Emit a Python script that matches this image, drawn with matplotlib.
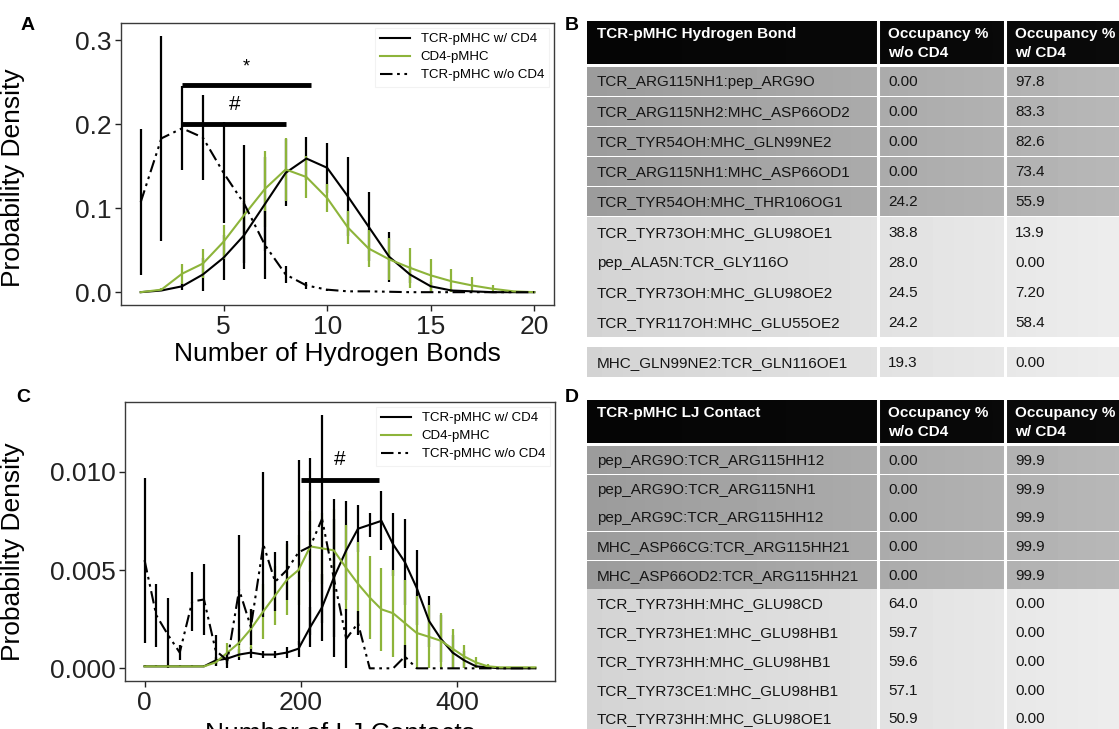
import matplotlib
matplotlib.use('Agg')
import matplotlib.pyplot as plt
from matplotlib.ticker import FormatStrFormatter
import numpy as np

plt.rcParams['font.family'] = ['Liberation Sans', 'DejaVu Sans']

# ---------------- data: panel A (hydrogen bonds) ----------------
hb_x = [1, 2, 3, 4, 5, 6, 7, 8, 9, 10, 11, 12, 13, 14, 15, 16, 17, 18, 19, 20]
hb_w_cd4 = [0.000, 0.002, 0.007, 0.021, 0.041, 0.068, 0.105, 0.142, 0.159, 0.148,
            0.114, 0.078, 0.042, 0.021, 0.007, 0.002, 0.001, 0.000, 0.000, 0.000]
hb_w_cd4_err = [0.000, 0.001, 0.004, 0.020, 0.027, 0.040, 0.056, 0.040, 0.026, 0.030,
                0.047, 0.041, 0.030, 0.010, 0.005, 0.002, 0.001, 0.000, 0.000, 0.000]
hb_cd4_pmhc = [0.000, 0.003, 0.022, 0.034, 0.060, 0.092, 0.123, 0.146, 0.137, 0.112,
               0.077, 0.052, 0.039, 0.029, 0.020, 0.013, 0.008, 0.004, 0.001, 0.000]
hb_cd4_pmhc_err = [0.000, 0.002, 0.012, 0.017, 0.020, 0.030, 0.045, 0.037, 0.025, 0.017,
                   0.020, 0.022, 0.025, 0.024, 0.020, 0.014, 0.010, 0.004, 0.001, 0.000]
hb_wo_cd4 = [0.107, 0.183, 0.195, 0.184, 0.142, 0.105, 0.056, 0.021, 0.008, 0.003,
             0.001, 0.001, 0.0005, 0.000, 0.000, 0.000, 0.000, 0.000, 0.000, 0.000]
hb_wo_cd4_err = [0.087, 0.122, 0.050, 0.050, 0.060, 0.070, 0.040, 0.010, 0.004, 0.001,
                 0.000, 0.000, 0.000, 0.000, 0.000, 0.000, 0.000, 0.000, 0.000, 0.000]

# ---------------- data: panel C (LJ contacts) ----------------
lj_x = [0, 15, 30, 45, 61, 76, 91, 106, 121, 136, 152, 167, 182, 197, 212, 227, 242,
        258, 273, 288, 303, 318, 333, 348, 364, 379, 394, 409, 424, 439, 455, 470, 485, 500]
lj_w_cd4 = [0.0001, 0.0001, 0.0001, 0.0001, 0.0001, 0.0001, 0.0004, 0.0005, 0.0007, 0.0008,
            0.0007, 0.0007, 0.0008, 0.0010, 0.0021, 0.0031, 0.0046, 0.0060, 0.0071, 0.0073,
            0.0075, 0.0063, 0.0054, 0.0041, 0.0024, 0.0015, 0.0008, 0.0004, 0.0001, 0.00005,
            0.0, 0.0, 0.0, 0.0]
lj_w_cd4_err = [0.00005, 0.00005, 0.00005, 0.00005, 0.00005, 0.00005, 0.0002, 0.0003, 0.0003, 0.0003,
                0.0002, 0.0002, 0.0003, 0.0004, 0.0010, 0.0017, 0.0030, 0.0025, 0.0012, 0.0006,
                0.0015, 0.0016, 0.0022, 0.0019, 0.0013, 0.0012, 0.0009, 0.0005, 0.0002, 0.0001,
                0.0, 0.0, 0.0, 0.0]
lj_cd4_pmhc = [0.0001, 0.0001, 0.0001, 0.0001, 0.0001, 0.0001, 0.0003, 0.0008, 0.0013, 0.0020,
               0.0029, 0.0037, 0.0045, 0.0050, 0.0062, 0.0061, 0.0060, 0.0051, 0.0043, 0.0036,
               0.0030, 0.0028, 0.0023, 0.0018, 0.0016, 0.0014, 0.0010, 0.0006, 0.0003, 0.0001,
               0.00005, 0.00005, 0.00005, 0.00005]
lj_cd4_pmhc_err = [0.0, 0.0, 0.0, 0.0, 0.0, 0.0, 0.0002, 0.0005, 0.0007, 0.0010,
                   0.0014, 0.0015, 0.0018, 0.0018, 0.0018, 0.0018, 0.0021, 0.0022, 0.0021, 0.0021,
                   0.0021, 0.0022, 0.0022, 0.0019, 0.0016, 0.0014, 0.0010, 0.0006, 0.0003, 0.0001,
                   0.0, 0.0, 0.0, 0.0]
lj_wo_cd4 = [0.0055, 0.0027, 0.0017, 0.0008, 0.0034, 0.0035, 0.0009, 0.0004, 0.0040, 0.0021,
             0.0063, 0.0044, 0.0050, 0.0059, 0.0062, 0.0076, 0.0046, 0.0015, 0.0023, 0.0,
             0.0, 0.0, 0.0006, 0.0, 0.0, 0.0, 0.0, 0.0, 0.0, 0.0,
             0.0, 0.0, 0.0, 0.0]
lj_wo_cd4_err = [0.0042, 0.0016, 0.0019, 0.0004, 0.0015, 0.0018, 0.0008, 0.0004, 0.0028, 0.0009,
                 0.0037, 0.0015, 0.0015, 0.0047, 0.0045, 0.0053, 0.0040, 0.0015, 0.0006, 0.0,
                 0.0, 0.0, 0.0006, 0.0, 0.0, 0.0, 0.0, 0.0, 0.0, 0.0,
                 0.0, 0.0, 0.0, 0.0]

series_labels = ['TCR-pMHC w/ CD4', 'CD4-pMHC', 'TCR-pMHC w/o CD4']

# ---------------- data: tables ----------------
hb_header = ['TCR-pMHC Hydrogen Bond', 'Occupancy %\nw/o CD4', 'Occupancy %\nw/ CD4']
hb_names = ['TCR_ARG115NH1:pep_ARG9O', 'TCR_ARG115NH2:MHC_ASP66OD2', 'TCR_TYR54OH:MHC_GLN99NE2',
            'TCR_ARG115NH1:MHC_ASP66OD1', 'TCR_TYR54OH:MHC_THR106OG1', 'TCR_TYR73OH:MHC_GLU98OE1',
            'pep_ALA5N:TCR_GLY116O', 'TCR_TYR73OH:MHC_GLU98OE2', 'TCR_TYR117OH:MHC_GLU55OE2',
            'MHC_GLN99NE2:TCR_GLN116OE1']
hb_occ_wo = ['0.00', '0.00', '0.00', '0.00', '24.2', '38.8', '28.0', '24.5', '24.2', '19.3']
hb_occ_w = ['97.8', '83.3', '82.6', '73.4', '55.9', '13.9', '0.00', '7.20', '58.4', '0.00']

lj_header = ['TCR-pMHC LJ Contact', 'Occupancy %\nw/o CD4', 'Occupancy %\nw/ CD4']
lj_names = ['pep_ARG9O:TCR_ARG115HH12', 'pep_ARG9O:TCR_ARG115NH1', 'pep_ARG9C:TCR_ARG115HH12',
            'MHC_ASP66CG:TCR_ARG115HH21', 'MHC_ASP66OD2:TCR_ARG115HH21', 'TCR_TYR73HH:MHC_GLU98CD',
            'TCR_TYR73HE1:MHC_GLU98HB1', 'TCR_TYR73HH:MHC_GLU98HB1', 'TCR_TYR73CE1:MHC_GLU98HB1',
            'TCR_TYR73HH:MHC_GLU98OE1']
lj_occ_wo = ['0.00', '0.00', '0.00', '0.00', '0.00', '64.0', '59.7', '59.6', '57.1', '50.9']
lj_occ_w = ['99.9', '99.9', '99.9', '99.9', '99.9', '0.00', '0.00', '0.00', '0.00', '0.00']

# ---------------- figure ----------------
W, H = 1119, 729
fig = plt.figure(figsize=(W / 100, H / 100), dpi=100)
fig.patch.set_facecolor('white')


def px_axes(l, t, r, b, **kw):
    return fig.add_axes([l / W, 1 - b / H, (r - l) / W, (b - t) / H], **kw)


GREEN = '#8db43a'
DASHDOTDOT = (0, (6, 2.2, 1.3, 2.2, 1.3, 2.2))


def draw_panel(ax, x, yw, ew, yg, eg, yo, eo):
    x = np.asarray(x)
    series = [(yw, ew, 'black', '-'), (yg, eg, GREEN, '-'), (yo, eo, 'black', DASHDOTDOT)]
    for (y, e, c, ls), lab in zip(series, series_labels):
        ax.plot(x, y, color=c, lw=1.5, linestyle=ls, label=lab, zorder=3)
    for (y, e, c, ls) in series:
        y = np.asarray(y)
        e = np.asarray(e)
        lo = np.minimum(e, y)
        ax.errorbar(x, y, yerr=[lo, e], fmt='none', ecolor=c, elinewidth=1.6, capsize=0, zorder=2)
    for s in ax.spines.values():
        s.set_color('#3a3a3a')
        s.set_linewidth(1.0)
    ax.tick_params(direction='out', length=4, width=1, labelsize=19, pad=3, colors='#222222')
    leg = ax.legend(loc='upper right', fontsize=9.5, frameon=True, fancybox=False,
                    edgecolor='#efefef', handlelength=2.3, labelspacing=0.45,
                    borderaxespad=0.35, handletextpad=0.8)
    leg.get_frame().set_linewidth(0.8)
    ax.set_ylabel('Probability Density', fontsize=19)


axA = px_axes(121, 23, 554, 305)
draw_panel(axA, hb_x, hb_w_cd4, hb_w_cd4_err, hb_cd4_pmhc, hb_cd4_pmhc_err, hb_wo_cd4, hb_wo_cd4_err)
axA.set_xticks([5, 10, 15, 20])
axA.set_yticks([0.0, 0.1, 0.2, 0.3])
axA.yaxis.set_major_formatter(FormatStrFormatter('%.1f'))
axA.set_xlabel('Number of Hydrogen Bonds', fontsize=19, labelpad=2)
axA.yaxis.set_label_coords(-0.222, 0.45)
axA.plot([3, 9.2], [0.247, 0.247], color='black', lw=3.5, solid_capstyle='butt', zorder=4)
axA.plot([3, 8], [0.200, 0.200], color='black', lw=3.5, solid_capstyle='butt', zorder=4)
axA.text(6.1, 0.268, '*', fontsize=13, ha='center', va='center')
axA.text(5.55, 0.223, '#', fontsize=15, ha='center', va='center')

axC = px_axes(125, 402, 555, 681)
draw_panel(axC, lj_x, lj_w_cd4, lj_w_cd4_err, lj_cd4_pmhc, lj_cd4_pmhc_err, lj_wo_cd4, lj_wo_cd4_err)
axC.set_xticks([0, 200, 400])
axC.set_yticks([0.0, 0.005, 0.010])
axC.yaxis.set_major_formatter(FormatStrFormatter('%.3f'))
axC.set_xlabel('Number of LJ Contacts', fontsize=19, labelpad=5)
axC.yaxis.set_label_coords(-0.233, 0.465)
axC.plot([200, 300], [0.0096, 0.0096], color='black', lw=3.5, solid_capstyle='butt', zorder=4)
axC.text(250, 0.0106, '#', fontsize=15, ha='center', va='center')

# ---------------- overlay for tables and panel letters ----------------
ov = fig.add_axes([0, 0, 1, 1], zorder=5)
ov.patch.set_alpha(0)
ov.axis('off')


def grad_rect(x0, x1, y0, y1, c0, c1):
    g = np.linspace(c0, c1, 64)[None, :]
    ov.imshow(g, cmap='gray', vmin=0, vmax=1, extent=[x0, x1, y1, y0], aspect='auto',
              interpolation='bilinear', zorder=1)


def draw_table(header, names, occ_wo, occ_w, head_top, head_bot, row_top, pitch, gap_after=None, gap=0):
    x0, c2, c3, x1 = 587, 878, 1005, 1125
    grad_rect(x0, x1, head_top, head_bot, 0.02, 0.04)
    tops = []
    t = row_top
    for i in range(len(names)):
        tops.append(t)
        t += pitch
        if gap_after is not None and i == gap_after:
            t += gap
    for i, tp in enumerate(tops):
        if i < 5:
            grad_rect(x0, x1, tp, tp + pitch - 1.5, 0.61, 0.72)
        else:
            grad_rect(x0, x1, tp, tp + pitch - 0.6, 0.83, 0.93)
    for xc in (c2, c3):
        ov.plot([xc, xc], [head_top, tops[-1] + pitch], color='white', lw=2.2, zorder=3)
    hy1 = head_top + 0.30 * (head_bot - head_top)
    hy2 = head_top + 0.74 * (head_bot - head_top)
    ov.text(x0 + 10, hy1, header[0], color='white', fontsize=11, fontweight='bold', va='center', zorder=4)
    for xc, txt in ((c2, header[1]), (c3, header[2])):
        l1, l2 = txt.split('\n')
        ov.text(xc + 10, hy1, l1, color='white', fontsize=11, fontweight='bold', va='center', zorder=4)
        ov.text(xc + 10, hy2, l2, color='white', fontsize=11, fontweight='bold', va='center', zorder=4)
    for i, tp in enumerate(tops):
        yc = tp + pitch / 2
        ov.text(x0 + 10, yc, names[i], fontsize=11, color='#151515', va='center', zorder=4)
        ov.text(c2 + 10, yc, occ_wo[i], fontsize=11, color='#151515', va='center', zorder=4)
        ov.text(c3 + 10, yc, occ_w[i], fontsize=11, color='#151515', va='center', zorder=4)


draw_table(hb_header, hb_names, hb_occ_wo, hb_occ_w, 21, 64, 67, 30.1, gap_after=8, gap=10)
draw_table(lj_header, lj_names, lj_occ_wo, lj_occ_w, 400, 443, 446.6, 28.7)

for lab, (x, y) in zip(['A', 'B', 'C', 'D'], [(28, 25), (572, 25), (23, 397), (572, 397)]):
    ov.text(x, y, lab, fontsize=14, fontweight='bold', ha='center', va='center', zorder=6)

ov.set_xlim(0, W)
ov.set_ylim(H, 0)

fig.savefig('out.png', dpi=100)
